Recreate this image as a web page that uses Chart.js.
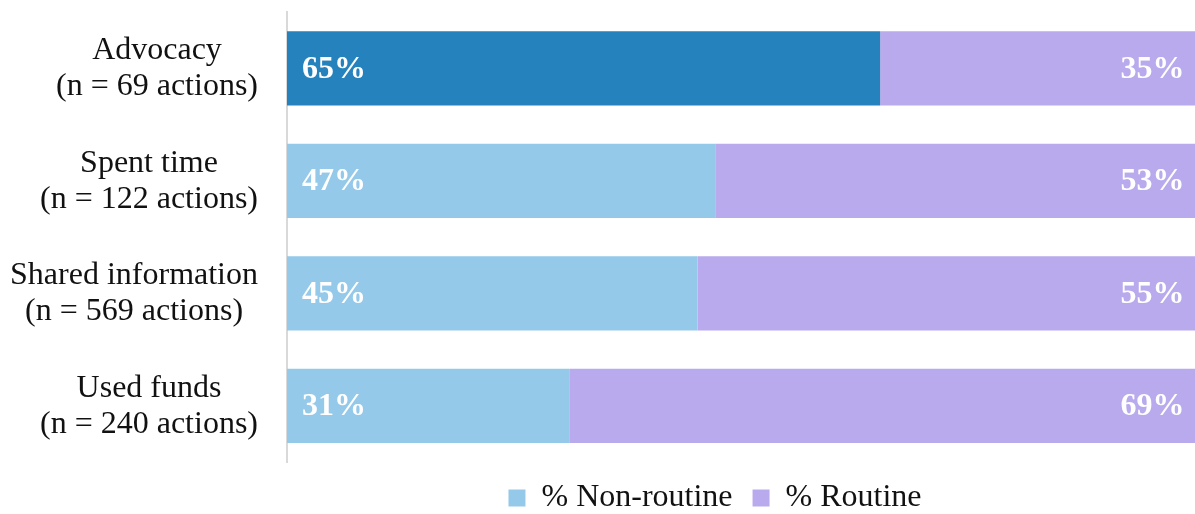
<!DOCTYPE html>
<html>
<head>
<meta charset="utf-8">
<script src="https://cdn.jsdelivr.net/npm/chart.js@4"></script>
<style>
  html, body { margin: 0; padding: 0; background: #fff; }
  #wrap { width: 1195px; height: 514px; }
</style>
</head>
<body>
<div id="wrap"><canvas id="routineChart"></canvas></div>
<script>
'use strict'

const categories = ['Advocacy', 'Spent time', 'Shared information', 'Used funds']
const actionCounts = [69, 122, 569, 240]
const nonRoutine = [65, 47, 45, 31]
const routine = [35, 53, 55, 69]

const DARK_BLUE = '#2582bd'
const LIGHT_BLUE = '#95c9ea'
const PURPLE = '#b9aaed'
const SERIF = '"Liberation Serif", "Times New Roman", serif'

// two-line category labels, each block centred on itself and pushed against the axis
const categoryLabels = {
  id: 'categoryLabels',
  afterDraw (chart) {
    const { ctx } = chart
    const yScale = chart.scales.y
    ctx.save()
    ctx.font = '32px ' + SERIF
    ctx.fillStyle = '#111111'
    ctx.textAlign = 'center'
    ctx.textBaseline = 'alphabetic'
    categories.forEach((name, i) => {
      const lines = [name, '(n = ' + actionCounts[i] + ' actions)']
      const widest = Math.max(...lines.map(l => ctx.measureText(l).width))
      const cx = yScale.right - 29 - widest / 2
      const cy = yScale.getPixelForTick(i)
      ctx.fillText(lines[0], cx, cy - 9)
      ctx.fillText(lines[1], cx, cy + 27)
    })
    ctx.restore()
  }
}

// percentage labels inside the bars
const valueLabels = {
  id: 'valueLabels',
  afterDatasetsDraw (chart) {
    const { ctx } = chart
    ctx.save()
    ctx.font = 'bold 32px ' + SERIF
    ctx.fillStyle = '#ffffff'
    ctx.textBaseline = 'middle'
    chart.data.datasets.forEach((ds, d) => {
      chart.getDatasetMeta(d).data.forEach((bar, i) => {
        const text = ds.data[i] + '%'
        if (d === 0) {
          ctx.textAlign = 'left'
          ctx.fillText(text, bar.base + 15, bar.y + 1)
        } else {
          ctx.textAlign = 'right'
          ctx.fillText(text, bar.x - 15, bar.y + 1)
        }
      })
    })
    ctx.restore()
  }
}

// shift the legend a little left of the plot-area centre
const legendNudge = {
  id: 'legendNudge',
  afterLayout (chart) {
    chart.legend.left -= 26
    chart.legend.right -= 26
  }
}

const ctx = document.getElementById('routineChart').getContext('2d')
const chart = new Chart(ctx, {
  type: 'bar',
  data: {
    labels: categories,
    datasets: [{
      label: '% Non-routine',
      data: nonRoutine,
      backgroundColor: c => c.dataIndex === 0 ? DARK_BLUE : LIGHT_BLUE,
      borderWidth: 0
    }, {
      label: '% Routine',
      data: routine,
      backgroundColor: PURPLE,
      borderWidth: 0
    }]
  },
  options: {
    indexAxis: 'y',
    responsive: true,
    maintainAspectRatio: false,
    animation: false,
    layout: { padding: { top: 12, right: 0, bottom: -10, left: 0 } },
    datasets: {
      bar: { categoryPercentage: 1, barPercentage: 0.66 }
    },
    scales: {
      x: {
        stacked: true,
        min: 0,
        max: 99.5,
        display: false
      },
      y: {
        stacked: true,
        grid: { display: false, drawTicks: false },
        border: { display: true, color: '#d9d9d9', width: 2 },
        ticks: { display: false },
        afterFit: scale => { scale.width = 287 }
      }
    },
    plugins: {
      legend: {
        position: 'bottom',
        fullSize: false,
        labels: {
          boxWidth: 17,
          boxHeight: 17,
          padding: 20,
          color: '#111111',
          font: { family: SERIF, size: 32 },
          generateLabels: ch => ch.data.datasets.map((ds, i) => ({
            text: ds.label,
            fillStyle: i === 0 ? LIGHT_BLUE : PURPLE,
            strokeStyle: 'transparent',
            lineWidth: 0,
            fontColor: '#111111',
            hidden: false,
            datasetIndex: i
          }))
        }
      },
      tooltip: { enabled: false }
    }
  },
  plugins: [categoryLabels, valueLabels, legendNudge]
})
</script>
</body>
</html>
